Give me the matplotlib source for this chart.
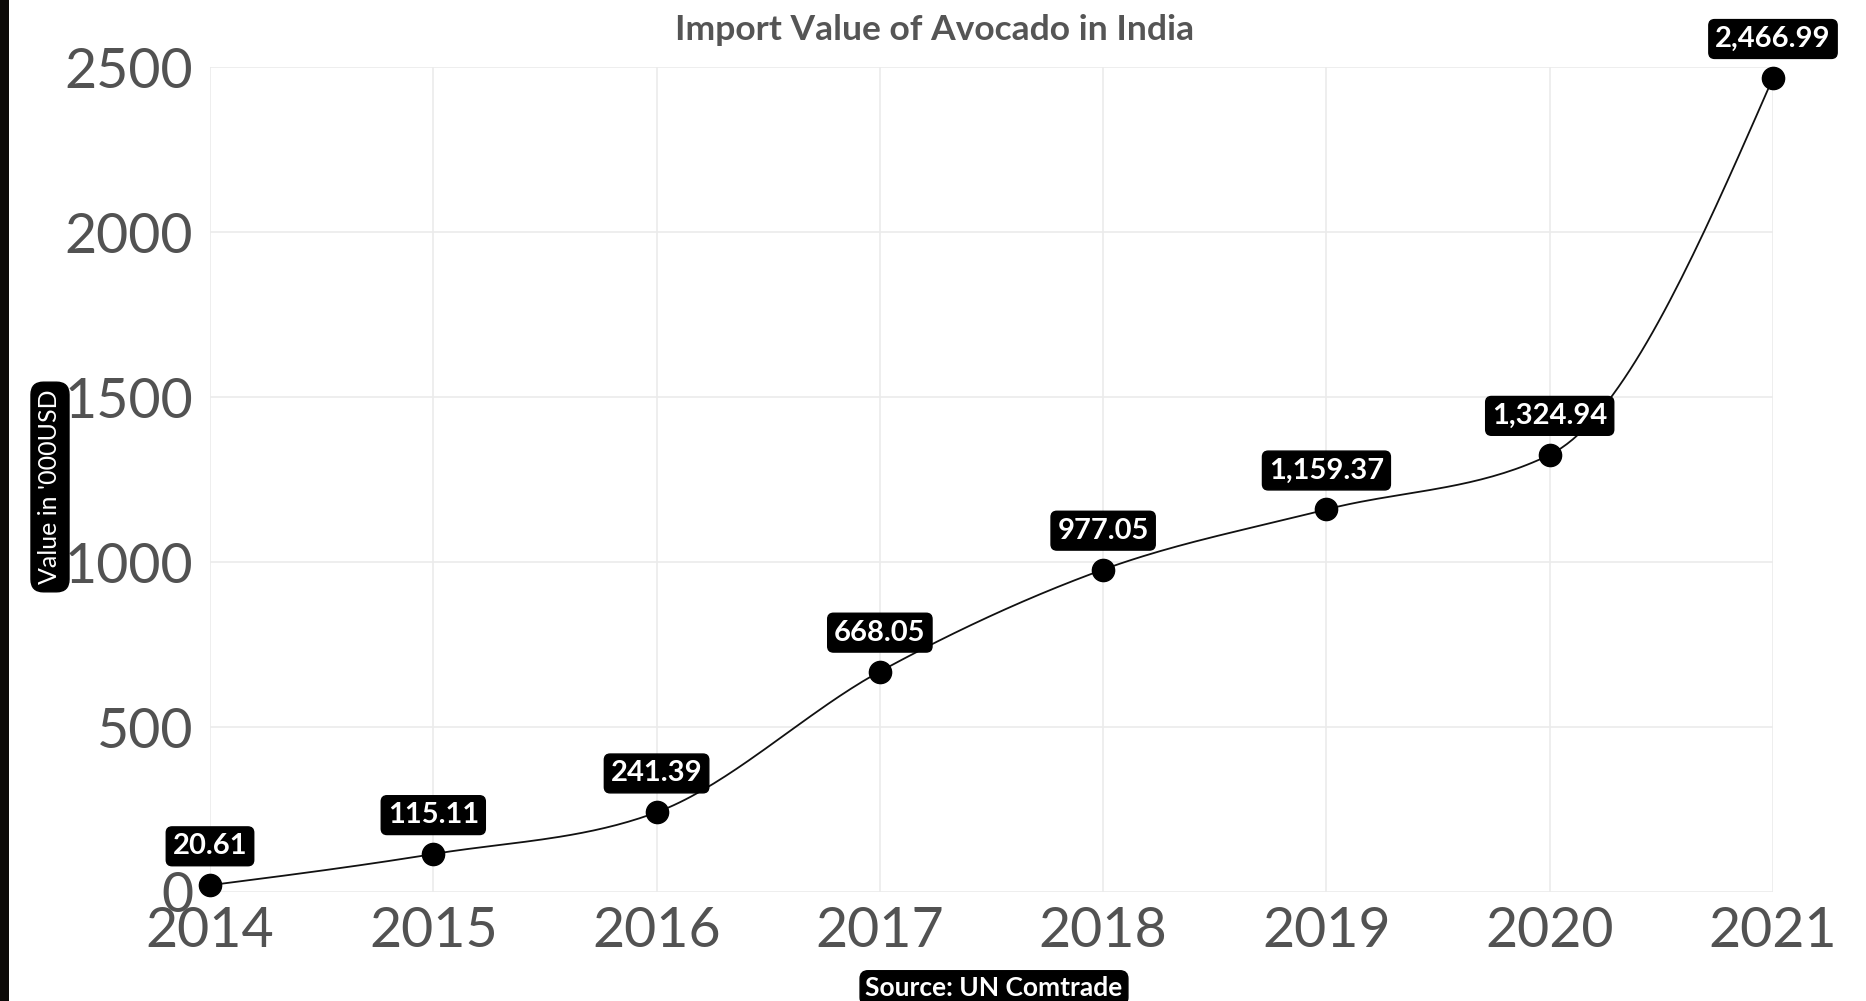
import numpy as np
import matplotlib.pyplot as plt
from matplotlib.patches import Rectangle

plt.rcParams['font.family'] = ['Lato', 'DejaVu Sans']

years = [2014, 2015, 2016, 2017, 2018, 2019, 2020, 2021]
values = [20.61, 115.11, 241.39, 668.05, 977.05, 1159.37, 1324.94, 2466.99]
y_ticks = [0, 500, 1000, 1500, 2000, 2500]

title = "Import Value of Avocado in India"
y_label = "Value in '000USD"
source = "Source: UN Comtrade"


def monotone_x(x, y, n=40):
    # same smoothing as d3.curveMonotoneX (Steffen)
    x = np.asarray(x, float)
    y = np.asarray(y, float)
    h = np.diff(x)
    s = np.diff(y) / h
    t = np.zeros(len(x))
    for i in range(1, len(x) - 1):
        p = (s[i - 1] * h[i] + s[i] * h[i - 1]) / (h[i - 1] + h[i])
        t[i] = (np.sign(s[i - 1]) + np.sign(s[i])) * min(abs(s[i - 1]), abs(s[i]), 0.5 * abs(p))
    t[0] = (3 * s[0] - t[1]) / 2
    t[-1] = (3 * s[-1] - t[-2]) / 2
    xs, ys = [], []
    for i in range(len(x) - 1):
        u = np.linspace(0, 1, n)
        h00 = 2 * u**3 - 3 * u**2 + 1
        h10 = u**3 - 2 * u**2 + u
        h01 = -2 * u**3 + 3 * u**2
        h11 = u**3 - u**2
        xs.append(x[i] + u * h[i])
        ys.append(h00 * y[i] + h10 * h[i] * t[i] + h01 * y[i + 1] + h11 * h[i] * t[i + 1])
    return np.concatenate(xs), np.concatenate(ys)


W, H = 1866, 1001
fig = plt.figure(figsize=(W / 100, H / 100), dpi=100)
fig.patch.set_facecolor('white')

# dark strip on the left edge
fig.patches.append(Rectangle((0, 0), 9 / W, 1, transform=fig.transFigure,
                             facecolor='#0c0a08', edgecolor='none', zorder=0))

ax = fig.add_axes([210 / W, 1 - 892 / H, (1773 - 210) / W, (892 - 67) / H])
ax.set_xlim(2014, 2021)
ax.set_ylim(0, 2500)
for sp in ax.spines.values():
    sp.set_visible(False)
ax.set_xticks(years)
ax.set_yticks(y_ticks)
ax.grid(True, color='#ebebeb', linewidth=1.2)
ax.set_axisbelow(True)
ax.tick_params(length=0, labelsize=40, labelcolor='#525252')
ax.tick_params(axis='x', pad=10)
ax.tick_params(axis='y', pad=12)

cx, cy = monotone_x(years, values)
ax.plot(cx, cy, color='#111111', linewidth=1.3, zorder=3)
ax.plot(years, values, 'o', color='black', markersize=16, zorder=4, clip_on=False)

for yr, v in zip(years, values):
    ax.annotate(f"{v:,.2f}", (yr, v), xytext=(0, 28), textcoords='offset points',
                ha='center', va='center', fontsize=21, fontweight='bold', color='white',
                bbox=dict(boxstyle='round,pad=0.22,rounding_size=0.2', fc='black', ec='black'),
                zorder=5)

fig.text(935 / W, 1 - 30 / H, title, ha='center', va='center', fontsize=25.5,
         fontweight='bold', color='#555555')

fig.text(50 / W, 1 - 487 / H, y_label, rotation=90, ha='center', va='center',
         fontsize=18, color='white',
         bbox=dict(boxstyle='round,pad=0.3,rounding_size=0.5', fc='black', ec='black'))

fig.text(994 / W, 1 - 988 / H, source, ha='center', va='center', fontsize=19,
         fontweight='bold', color='white',
         bbox=dict(boxstyle='round,pad=0.2,rounding_size=0.3', fc='black', ec='black'))

fig.savefig('out.png', dpi=100)
